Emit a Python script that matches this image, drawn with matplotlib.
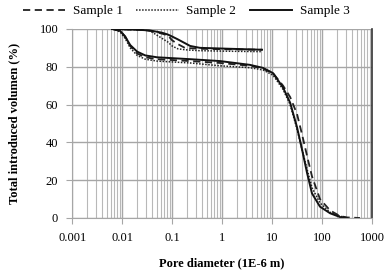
import matplotlib

matplotlib.use('Agg')
import matplotlib.pyplot as plt
from matplotlib.ticker import LogLocator, FixedLocator, NullFormatter

plt.rcParams['font.family'] = ['Liberation Serif', 'DejaVu Serif']

# pore diameter (1E-6 m) sampling points
d_up = [0.0063, 0.023, 0.036, 0.063, 0.083, 0.1, 0.13, 0.18, 0.23, 0.36, 1.45, 6.3]
d_low = [0.0063, 0.0091, 0.0115, 0.0145, 0.02, 0.029, 0.05, 0.23, 0.91, 3.6, 6.6,
         10.5, 16.6, 23, 31.6, 40, 50, 63, 91, 145, 229, 316]

# upper branch (%)
s1_up = [100, 99.5, 99, 97.5, 96.5, 94, 92, 90, 89.8, 89.5, 89.2, 89]
s2_up = [100, 99.5, 99, 95, 93, 91, 89.5, 89, 88.8, 88.5, 88.2, 88]
s3_up = [100, 99.5, 99.2, 98, 97, 96, 94.5, 92.5, 91, 90, 89.5, 89]

# lower branch (%)
s1_low = [100, 99, 96, 91, 87, 85, 84, 83, 82, 80.5, 79, 76.5, 70, 64, 55, 44, 33, 22, 10, 4, 1, 0.3]
s2_low = [100, 98.5, 95, 90, 86, 84, 83, 82, 80.5, 79.5, 78.3, 75.5, 68, 60, 47, 36, 26, 16, 8, 3, 1, 0]
s3_low = [100, 99, 96, 91.5, 88, 86, 85, 84, 83, 81, 79.4, 76.6, 69, 61, 48, 36, 24, 13, 6, 2.5, 0.5, 0]
s1_tail_x = [575]
s1_tail_y = [0]

fig = plt.figure(figsize=(3.92, 2.73), dpi=100)
ax = fig.add_axes([0.184, 0.2015, 0.765, 0.6925])

ax.plot(d_up, s1_up, color='#222222', linestyle=(0, (4, 2.5)), linewidth=1.3, label='Sample 1')
ax.plot(d_low + s1_tail_x, s1_low + s1_tail_y, color='#222222', linestyle=(0, (4, 2.5)), linewidth=1.3)
ax.plot(d_up, s2_up, color='#222222', linestyle=(0, (1, 1)), linewidth=1.1, label='Sample 2')
ax.plot(d_low, s2_low, color='#222222', linestyle=(0, (1, 1)), linewidth=1.1)
ax.plot(d_up, s3_up, color='#111111', linestyle='-', linewidth=1.4, label='Sample 3')
ax.plot(d_low, s3_low, color='#111111', linestyle='-', linewidth=1.4)

ax.set_xscale('log')
ax.set_xlim(0.001, 1000)
ax.set_ylim(0, 100)
ax.xaxis.set_major_locator(FixedLocator([0.001, 0.01, 0.1, 1, 10, 100, 1000]))
ax.set_xticklabels(['0.001', '0.01', '0.1', '1', '10', '100', '1000'])
ax.xaxis.set_minor_locator(LogLocator(base=10, subs=range(2, 10)))
ax.xaxis.set_minor_formatter(NullFormatter())
ax.set_yticks([0, 20, 40, 60, 80, 100])

ax.grid(True, which='major', color='#a6a6a6', linewidth=1.0)
ax.grid(True, which='minor', axis='x', color='#b8b8b8', linewidth=0.8)
ax.tick_params(which='major', direction='out', length=4, color='#a6a6a6', labelsize=9, pad=6)
ax.tick_params(which='minor', length=0)
for side in ['left', 'bottom']:
    ax.spines[side].set_color('#a6a6a6')
ax.spines['top'].set_visible(False)
ax.spines['right'].set_color('#333333')
ax.spines['right'].set_linewidth(1.2)

ax.set_xlabel('Pore diameter (1E-6 m)', fontsize=9, fontweight='bold', labelpad=10)
ax.set_ylabel('Total introduced volumen (%)', fontsize=9, fontweight='bold', labelpad=14)

fig.legend(loc='upper center', bbox_to_anchor=(0.475, 1.025), ncol=3, frameon=False, fontsize=9.5,
           handlelength=3.2, columnspacing=1.0, handletextpad=0.6)

fig.savefig('out.png', dpi=100)
